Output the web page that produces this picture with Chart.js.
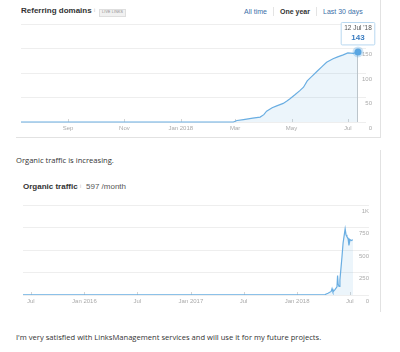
<!DOCTYPE html>
<html>
<head>
<meta charset="utf-8">
<script src="https://cdn.jsdelivr.net/npm/chart.js@4.4.1/dist/chart.umd.min.js"></script>
<style>
  body { margin: 0; width: 400px; height: 352px; background: #fff; position: relative; overflow: hidden;
         font-family: "Liberation Sans", Arial, sans-serif; }
  .abs { position: absolute; white-space: nowrap; line-height: 1; }
  .panel { position: absolute; border-right: 1px solid #e2e2e2; border-bottom: 1px solid #e2e2e2; }
  .title { font-weight: bold; font-size: 8px; color: #333; }
  .tab { font-size: 7px; color: #3d6fa8; top: 8px; }
  .sep { position: absolute; width: 1px; height: 9px; background: #e4e4e4; top: 7px; }
  .badge { font-size: 3.6px; color: #888; background: #f1f1f1; border: 0.5px solid #dedede; padding: 1.5px 2px; letter-spacing: 0.2px; }
  .info { font-size: 5px; color: #bbb; }
  .para { font-family: "Open Sans", sans-serif; font-size: 7.6px; color: #333; }
  .box { position: absolute; }
</style>
</head>
<body>
<div class="panel" style="left:16px; top:-2px; width:364px; height:139px;"></div>
<div class="panel" style="left:16px; top:150px; width:364px; height:162px; border-bottom:none;"></div>

<div class="abs title" style="left:21px; top:7px;">Referring domains</div>
<div class="abs info" style="left:94px; top:8px;">i</div>
<div class="abs badge" style="left:99px; top:8.5px;">LIVE LINKS</div>
<div class="abs tab" style="left:244px;">All time</div>
<div class="sep" style="left:273px;"></div>
<div class="abs tab" style="left:280px; color:#333; font-weight:bold;">One year</div>
<div class="sep" style="left:316px;"></div>
<div class="abs tab" style="left:323px;">Last 30 days</div>

<div class="box" style="left:16px; top:18px; width:364px; height:117px;"><canvas id="refdomains"></canvas></div>

<div class="abs para" style="left:16px; top:157px;">Organic traffic is increasing.</div>

<div class="abs title" style="left:23px; top:183px;">Organic traffic</div>
<div class="abs info" style="left:80px; top:184px;">i</div>
<div class="abs" style="left:86px; top:183px; font-size:8px; color:#555;">597 /month</div>

<div class="box" style="left:18px; top:198px; width:362px; height:110px;"><canvas id="organic"></canvas></div>

<div class="abs para" style="left:16px; top:334px;">I'm very satisfied with LinksManagement services and will use it for my future projects.</div>

<script>
// Referring domains, one year
const refDates = ["2017-07-12", "2018-02-27", "2018-03-03", "2018-03-10", "2018-03-20", "2018-03-28",
  "2018-04-01", "2018-04-04", "2018-04-10", "2018-04-15", "2018-04-22", "2018-04-26", "2018-04-29",
  "2018-05-05", "2018-05-10", "2018-05-14", "2018-05-18", "2018-05-23", "2018-05-29", "2018-06-03",
  "2018-06-08", "2018-06-15", "2018-06-20", "2018-06-26", "2018-07-01", "2018-07-07", "2018-07-12"];
const refValues = [0, 0, 3, 5, 8, 10, 15, 22, 29, 33, 38, 43, 47, 56, 64, 71, 84, 93, 104, 113,
  122, 129, 133, 137, 141, 140, 143];
const refTickDates = ["2017-09-01", "2017-11-01", "2018-01-01", "2018-03-01", "2018-05-01", "2018-07-01"];
const refTickLabels = ["Sep", "Nov", "Jan 2018", "Mar", "May", "Jul"];
const refRange = ["2017-07-12", "2018-07-12"];
const refTooltipTitle = "12 Jul '18";

// Organic traffic
const orgDates = ["2015-06-04", "2018-04-07", "2018-04-17", "2018-04-28", "2018-05-01", "2018-05-04",
  "2018-05-11", "2018-05-18", "2018-05-20", "2018-05-22", "2018-05-25", "2018-05-28", "2018-06-04",
  "2018-06-08", "2018-06-15", "2018-06-18", "2018-06-21", "2018-06-25", "2018-06-28", "2018-07-02",
  "2018-07-07", "2018-07-12"];
const orgValues = [3, 5, 20, 40, 70, 35, 60, 90, 215, 120, 95, 165, 420, 580, 735, 670, 650, 630,
  550, 615, 605, 615];
const orgTickDates = ["2015-07-01", "2016-01-01", "2016-07-01", "2017-01-01", "2017-07-01", "2018-01-01", "2018-07-01"];
const orgTickLabels = ["Jul", "Jan 2016", "Jul", "Jan 2017", "Jul", "Jan 2018", "Jul"];
const orgRange = ["2015-06-04", "2018-07-12"];

const day = s => Date.parse(s) / 864e5;

Chart.defaults.font.family = '"Liberation Sans", Arial, sans-serif';
Chart.defaults.color = "#aaa";

const lineBlue = "#6aaee2";
const fillBlue = "rgba(106,174,226,0.13)";

// small tick marks on the baseline + crosshair under the active point
const markers = {
  id: "markers",
  beforeDatasetsDraw(chart) {
    const ctx = chart.ctx;
    const area = chart.chartArea;
    const x = chart.scales.x;
    ctx.save();
    ctx.strokeStyle = "#d4d4d4";
    ctx.lineWidth = 1;
    x.ticks.forEach(t => {
      const px = Math.round(x.getPixelForValue(t.value)) + 0.5;
      ctx.beginPath();
      ctx.moveTo(px, area.bottom);
      ctx.lineTo(px, area.bottom - 3);
      ctx.stroke();
    });
    const act = chart.getActiveElements();
    if (act.length) {
      const el = act[0].element;
      ctx.strokeStyle = "#c8c8c8";
      ctx.beginPath();
      ctx.moveTo(Math.round(el.x) - 0.5, el.y);
      ctx.lineTo(Math.round(el.x) - 0.5, area.bottom);
      ctx.stroke();
    }
    ctx.restore();
  }
};

function xAxis(range, tickDates, tickLabels) {
  return {
    type: "linear",
    min: day(range[0]),
    max: day(range[1]),
    afterBuildTicks: axis => { axis.ticks = tickDates.map(d => ({ value: day(d) })); },
    grid: { display: false, drawTicks: false },
    border: { display: false },
    ticks: {
      autoSkip: false,
      maxRotation: 0,
      padding: 3,
      font: { size: 6 },
      color: "#aaa",
      callback: (v, i) => tickLabels[i]
    },
    afterFit: axis => { axis.height = 13; }
  };
}

const refChart = new Chart(document.getElementById("refdomains"), {
  type: "line",
  data: {
    datasets: [{
      data: refDates.map((d, i) => ({ x: day(d), y: refValues[i] })),
      borderColor: lineBlue,
      backgroundColor: fillBlue,
      borderWidth: 1.2,
      fill: "origin",
      tension: 0,
      clip: false,
      pointRadius: 0,
      pointHoverRadius: 3.5,
      pointHoverBackgroundColor: "#5aa6e2",
      pointHoverBorderColor: "rgba(90,166,226,0.3)",
      pointHoverBorderWidth: 4
    }]
  },
  options: {
    responsive: true,
    maintainAspectRatio: false,
    animation: false,
    events: [],
    layout: { padding: { left: 5, top: 6, right: 8, bottom: 0 } },
    plugins: {
      legend: { display: false },
      tooltip: {
        backgroundColor: "#fff",
        borderColor: "#b8d8f0",
        borderWidth: 1,
        cornerRadius: 1,
        caretSize: 0,
        caretPadding: 7,
        padding: { x: 3, y: 2 },
        displayColors: false,
        xAlign: "center",
        yAlign: "bottom",
        titleAlign: "center",
        bodyAlign: "center",
        titleColor: "#555",
        titleFont: { size: 6.5, weight: "normal" },
        titleMarginBottom: 1,
        bodyColor: "#3a7cc0",
        bodyFont: { size: 8, weight: "bold" },
        callbacks: {
          title: () => refTooltipTitle,
          label: c => String(c.parsed.y)
        }
      }
    },
    scales: {
      x: xAxis(refRange, refTickDates, refTickLabels),
      y: {
        position: "right",
        min: 0,
        max: 200,
        grid: { color: "#eeeeee", drawTicks: true, tickLength: 8 },
        border: { display: false },
        ticks: {
          stepSize: 50,
          crossAlign: "far",
          labelOffset: 6,
          padding: 0,
          font: { size: 6 },
          color: "#aaa",
          callback: v => (v === 200 ? "" : v)
        },
        afterFit: axis => { axis.width = 14; }
      }
    }
  },
  plugins: [markers]
});

const last = refValues.length - 1;
refChart.setActiveElements([{ datasetIndex: 0, index: last }]);
refChart.tooltip.setActiveElements([{ datasetIndex: 0, index: last }], { x: 0, y: 0 });
refChart.update("none");

new Chart(document.getElementById("organic"), {
  type: "line",
  data: {
    datasets: [{
      data: orgDates.map((d, i) => ({ x: day(d), y: orgValues[i] })),
      borderColor: lineBlue,
      backgroundColor: fillBlue,
      borderWidth: 1.2,
      fill: "origin",
      tension: 0,
      pointRadius: 0
    }]
  },
  options: {
    responsive: true,
    maintainAspectRatio: false,
    animation: false,
    events: [],
    layout: { padding: { left: 5, top: 7, right: 11, bottom: 0 } },
    plugins: { legend: { display: false }, tooltip: { enabled: false } },
    scales: {
      x: xAxis(orgRange, orgTickDates, orgTickLabels),
      y: {
        position: "right",
        min: 0,
        max: 1000,
        grid: { color: "#eeeeee", drawTicks: true, tickLength: 16 },
        border: { display: false },
        ticks: {
          stepSize: 250,
          crossAlign: "far",
          labelOffset: 6,
          padding: 0,
          font: { size: 6 },
          color: "#aaa",
          callback: v => (v === 1000 ? "1K" : v)
        },
        afterFit: axis => { axis.width = 16; }
      }
    }
  },
  plugins: [markers]
});
</script>
</body>
</html>
